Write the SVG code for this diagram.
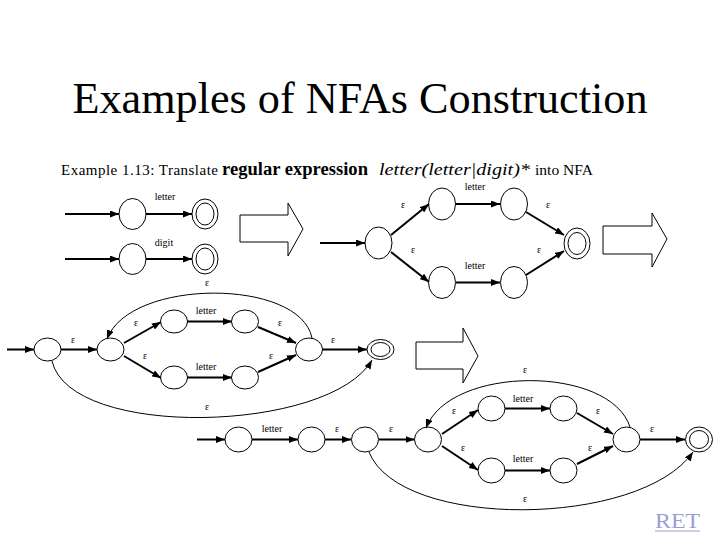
<svg xmlns="http://www.w3.org/2000/svg" width="720" height="540" viewBox="0 0 720 540">
<style>
text{font-family:"Liberation Serif","Times New Roman",Times,"DejaVu Serif",serif}
.st{fill:none;stroke:#000;stroke-width:1}
.tr{fill:none;stroke:#000;stroke-width:2;marker-end:url(#ah)}
.arc{fill:none;stroke:#000;stroke-width:1;marker-end:url(#ah)}
.big{fill:#fff;stroke:#000;stroke-width:1}
.lb{font-size:10px;fill:#000;text-anchor:middle}
.sub{fill:#000}
</style>
<defs>
<marker id="ah" markerUnits="userSpaceOnUse" markerWidth="9" markerHeight="7" refX="9" refY="3.5" orient="auto"><path d="M0,0 L9,3.5 L0,7 z" fill="#000"/></marker>
</defs>
<rect width="720" height="540" fill="#fff"/>
<text x="360" y="113" font-size="44" text-anchor="middle" textLength="575" lengthAdjust="spacingAndGlyphs">Examples of NFAs Construction</text>
<text class="sub" x="61" y="175" font-size="15" textLength="157" lengthAdjust="spacing">Example 1.13: Translate</text>
<text class="sub" x="222" y="175" font-size="18" font-weight="bold" textLength="146" lengthAdjust="spacingAndGlyphs">regular expression</text>
<text class="sub" x="379" y="175" font-size="17" font-style="italic" textLength="151" lengthAdjust="spacingAndGlyphs">letter(letter|digit)*</text>
<text class="sub" x="535" y="175" font-size="15" textLength="58" lengthAdjust="spacingAndGlyphs">into NFA</text>

<g id="connectors">
<!-- diagram 1 -->
<path class="tr" d="M65,214 L119,214"/>
<path class="tr" d="M146,214 L192,214"/>
<path class="tr" d="M65,259 L119,259"/>
<path class="tr" d="M146,259 L192,259"/>
<!-- diagram 2 -->
<path class="tr" d="M320,243 L365,243"/>
<path class="tr" d="M391,235 L429,204"/>
<path class="tr" d="M391,252 L429,282"/>
<path class="tr" d="M456,204 L500,204"/>
<path class="tr" d="M456,282.5 L500,282.5"/>
<path class="tr" d="M526,212 L564,235"/>
<path class="tr" d="M526,275 L564,251"/>
<!-- diagram 3 -->
<path class="tr" d="M7,349.5 L34,349.5"/>
<path class="tr" d="M61,349.5 L97,349.5"/>
<path class="tr" d="M124,343 L161,322"/>
<path class="tr" d="M124,356 L161,378"/>
<path class="tr" d="M187,321.5 L232,321.5"/>
<path class="tr" d="M187,377.5 L232,377.5"/>
<path class="tr" d="M258,327 L296,343"/>
<path class="tr" d="M258,372 L296,355"/>
<path class="tr" d="M322,349.5 L367,349.5"/>
<path class="arc" d="M312,338 C300,278 130,278 107,339"/>
<path class="arc" d="M52,361 C70,440 330,433 372,360"/>
<!-- diagram 4 -->
<path class="tr" d="M197,439.5 L225,439.5"/>
<path class="tr" d="M252,439.5 L298,439.5"/>
<path class="tr" d="M325,439.5 L351,439.5"/>
<path class="tr" d="M379,439.5 L414.5,439.5"/>
<path class="tr" d="M442,434 L478,410"/>
<path class="tr" d="M442,446 L478,470"/>
<path class="tr" d="M505,408.5 L550,408.5"/>
<path class="tr" d="M505,470.5 L550,470.5"/>
<path class="tr" d="M577,413 L613,434"/>
<path class="tr" d="M577,464 L613,446"/>
<path class="tr" d="M640,439.5 L685,439.5"/>
<path class="arc" d="M630,427 C610,365 450,365 426,428"/>
<path class="arc" d="M369,452 C400,530 640,528 693,452"/>
</g>

<!-- diagram 1 nodes -->
<g id="d1s0"><ellipse class="st" cx="132.5" cy="214" rx="13.5" ry="15.5"/></g>
<g id="d1s1"><ellipse class="st" cx="205" cy="214" rx="13" ry="15"/><ellipse class="st" cx="205" cy="214" rx="9" ry="11"/></g>
<g id="d1s2"><ellipse class="st" cx="132.5" cy="259" rx="13.5" ry="15.5"/></g>
<g id="d1s3"><ellipse class="st" cx="205" cy="259" rx="13" ry="15"/><ellipse class="st" cx="205" cy="259" rx="9" ry="11"/></g>
<g id="d1labels"><text class="lb" x="165" y="200">letter</text><text class="lb" x="164" y="246">digit</text></g>

<g id="arrow1"><path class="big" d="M240,215 H288 V203 L303,229 L288,256 V242 H240 Z"/></g>

<!-- diagram 2 nodes -->
<g id="d2s0"><ellipse class="st" cx="378.5" cy="243" rx="13.5" ry="16"/></g>
<g id="d2s1"><ellipse class="st" cx="442" cy="204" rx="13.5" ry="16"/></g>
<g id="d2s2"><ellipse class="st" cx="514" cy="204" rx="13.5" ry="16"/></g>
<g id="d2s3"><ellipse class="st" cx="442" cy="282.5" rx="13.5" ry="16"/></g>
<g id="d2s4"><ellipse class="st" cx="514" cy="282.5" rx="13.5" ry="16"/></g>
<g id="d2s5"><ellipse class="st" cx="577" cy="243.5" rx="13" ry="15.5"/><ellipse class="st" cx="577" cy="243.5" rx="9" ry="11"/></g>
<g id="d2labels">
<text class="lb" x="475" y="190">letter</text>
<text class="lb" x="403" y="208">ε</text>
<text class="lb" x="548" y="208">ε</text>
<text class="lb" x="413" y="253">ε</text>
<text class="lb" x="539" y="253">ε</text>
<text class="lb" x="475" y="269">letter</text>
</g>

<g id="arrow2"><path class="big" d="M603,226 H652 V213 L667,239 L652,267 V254 H603 Z"/></g>

<!-- diagram 3 nodes -->
<g id="d3s0"><ellipse class="st" cx="47.5" cy="349.5" rx="13.5" ry="11.5"/></g>
<g id="d3s1"><ellipse class="st" cx="110.5" cy="349.5" rx="13.5" ry="11.5"/></g>
<g id="d3s2"><ellipse class="st" cx="174" cy="321.5" rx="13.5" ry="11.5"/></g>
<g id="d3s3"><ellipse class="st" cx="245" cy="321.5" rx="13.5" ry="11.5"/></g>
<g id="d3s4"><ellipse class="st" cx="174" cy="377.5" rx="13.5" ry="11.5"/></g>
<g id="d3s5"><ellipse class="st" cx="245" cy="377.5" rx="13.5" ry="11.5"/></g>
<g id="d3s6"><ellipse class="st" cx="309" cy="349.5" rx="13.5" ry="11.5"/></g>
<g id="d3s7"><ellipse class="st" cx="380.5" cy="349.5" rx="13.5" ry="10"/><ellipse class="st" cx="380.5" cy="349.5" rx="9.5" ry="7"/></g>
<g id="d3labels">
<text class="lb" x="207" y="286">ε</text>
<text class="lb" x="73" y="343">ε</text>
<text class="lb" x="136" y="326">ε</text>
<text class="lb" x="206" y="314">letter</text>
<text class="lb" x="280" y="326">ε</text>
<text class="lb" x="145" y="359">ε</text>
<text class="lb" x="206" y="370">letter</text>
<text class="lb" x="271" y="359">ε</text>
<text class="lb" x="333" y="343">ε</text>
<text class="lb" x="207" y="410">ε</text>
</g>

<g id="arrow3"><path class="big" d="M416,342 H463 V328 L478,356 L463,383 V369 H416 Z"/></g>

<!-- diagram 4 nodes -->
<g id="d4s0"><ellipse class="st" cx="238.5" cy="439.5" rx="13.5" ry="12.5"/></g>
<g id="d4s1"><ellipse class="st" cx="311.5" cy="439.5" rx="13.5" ry="12.5"/></g>
<g id="d4s2"><ellipse class="st" cx="365" cy="439.5" rx="13.5" ry="12.5"/></g>
<g id="d4s3"><ellipse class="st" cx="428" cy="439.5" rx="13.5" ry="12.5"/></g>
<g id="d4s4"><ellipse class="st" cx="491.5" cy="408.5" rx="13.5" ry="12.5"/></g>
<g id="d4s5"><ellipse class="st" cx="563.5" cy="408.5" rx="13.5" ry="12.5"/></g>
<g id="d4s6"><ellipse class="st" cx="491.5" cy="470.5" rx="13.5" ry="12.5"/></g>
<g id="d4s7"><ellipse class="st" cx="563.5" cy="470.5" rx="13.5" ry="12.5"/></g>
<g id="d4s8"><ellipse class="st" cx="626.5" cy="439.5" rx="13.5" ry="12.5"/></g>
<g id="d4s9"><ellipse class="st" cx="699" cy="439.5" rx="13.5" ry="12.5"/><ellipse class="st" cx="699" cy="439.5" rx="9.5" ry="9"/></g>
<g id="d4labels">
<text class="lb" x="272" y="432">letter</text>
<text class="lb" x="337" y="432">ε</text>
<text class="lb" x="391" y="432">ε</text>
<text class="lb" x="454" y="414">ε</text>
<text class="lb" x="523" y="402">letter</text>
<text class="lb" x="598" y="414">ε</text>
<text class="lb" x="463" y="451">ε</text>
<text class="lb" x="523" y="462">letter</text>
<text class="lb" x="590" y="451">ε</text>
<text class="lb" x="652" y="432">ε</text>
<text class="lb" x="525" y="373">ε</text>
<text class="lb" x="525" y="502">ε</text>
</g>

<g id="ret"><text x="655" y="528" font-size="22" fill="#9d9dd6" textLength="45" lengthAdjust="spacingAndGlyphs">RET</text><line x1="655" y1="531" x2="700" y2="531" stroke="#9d9dd6" stroke-width="1"/></g>
</svg>
